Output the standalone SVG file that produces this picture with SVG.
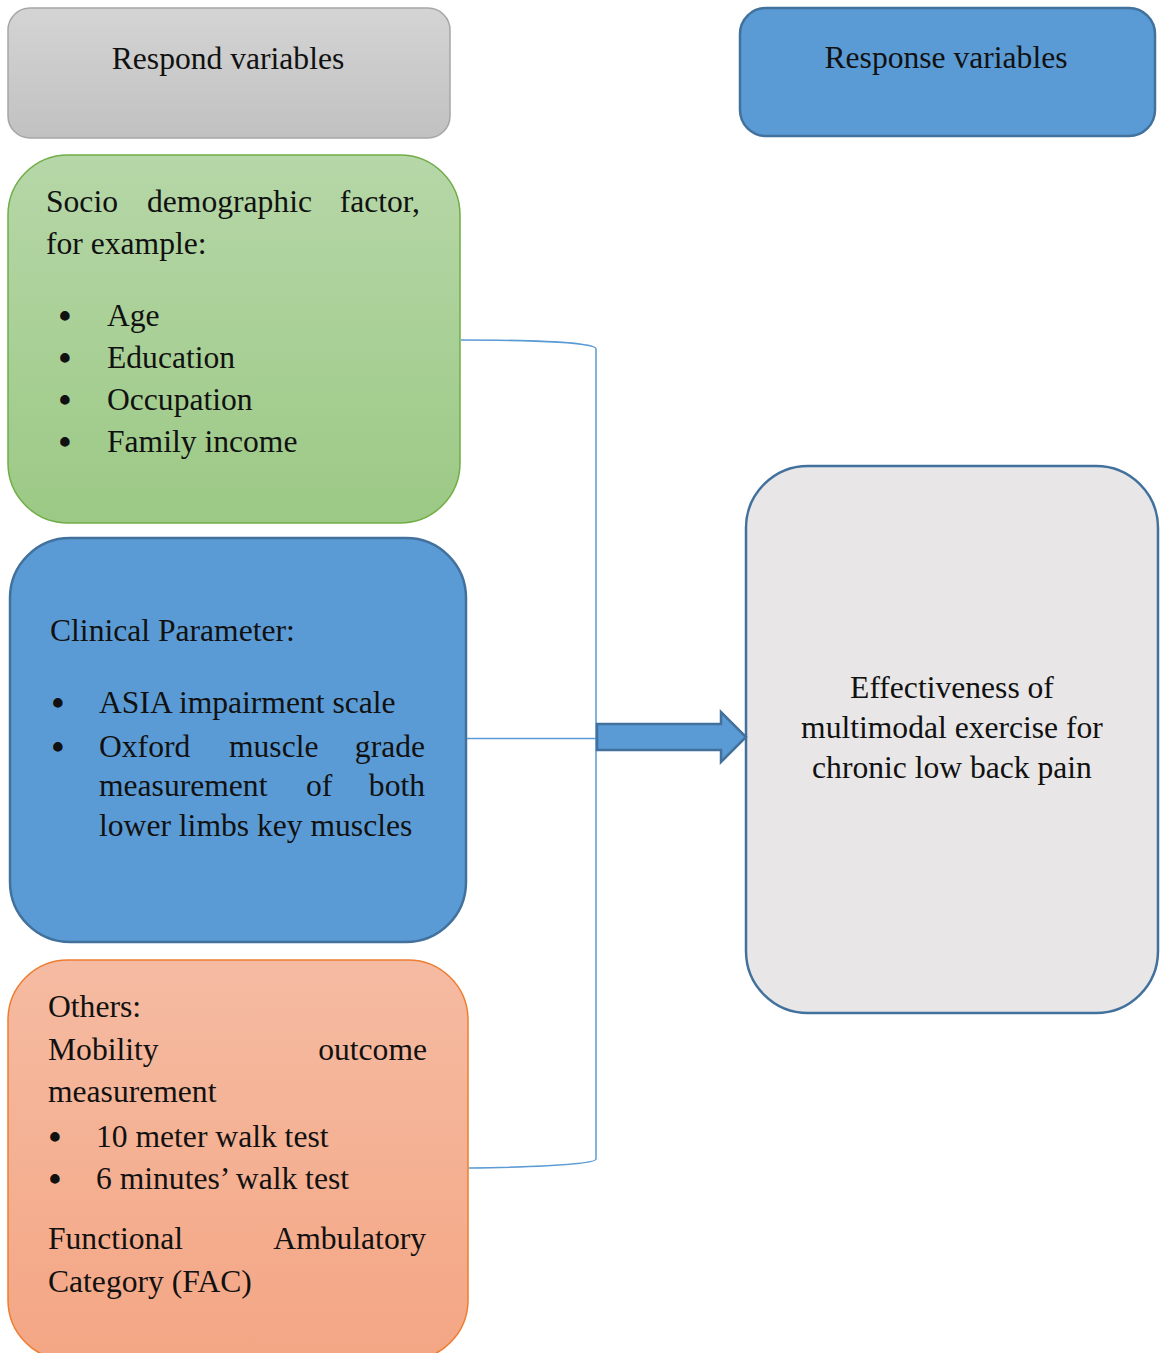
<svg xmlns="http://www.w3.org/2000/svg" width="1160" height="1353" viewBox="0 0 1160 1353">
<defs>
<linearGradient id="gGray" x1="0" y1="0" x2="0" y2="1"><stop offset="0" stop-color="#d4d4d4"/><stop offset="1" stop-color="#c1c1c1"/></linearGradient>
<linearGradient id="gGreen" x1="0" y1="0" x2="0" y2="1"><stop offset="0" stop-color="#b6d7a8"/><stop offset="1" stop-color="#9cc985"/></linearGradient>
<linearGradient id="gOrange" x1="0" y1="0" x2="0" y2="1"><stop offset="0" stop-color="#f5bba2"/><stop offset="1" stop-color="#f4a684"/></linearGradient>
<style>
text{font-family:"Liberation Serif","Times New Roman",serif;font-size:31.6px;fill:#111}
text.b{font-size:35px;text-anchor:middle;font-weight:bold}
.c{text-anchor:middle}
.e{text-anchor:end}
.blue{fill:#5b9bd5;stroke:#41719c;stroke-width:2.5}
.conn{fill:none;stroke:#5b9bd5;stroke-width:1.5}
</style>
</defs>
<g id="respond">
<rect x="8" y="8" width="442" height="130" rx="22" fill="url(#gGray)" stroke="#a6a6a6" stroke-width="1.5"/>
<text x="228" y="69" class="c">Respond variables</text>
</g>
<g id="response">
<rect x="740" y="8" width="415" height="128" rx="26" class="blue"/>
<text x="946" y="68" class="c">Response variables</text>
</g>
<g id="socio">
<rect x="8" y="155" width="452" height="368" rx="60" fill="url(#gGreen)" stroke="#70ad47" stroke-width="1.5"/>
<text x="46" y="212">Socio</text>
<text x="147" y="212">demographic</text>
<text x="420" y="212" class="e">factor,</text>
<text x="46" y="254">for example:</text>
<text x="65" y="328" class="b">•</text><text x="107" y="326">Age</text>
<text x="65" y="370" class="b">•</text><text x="107" y="368">Education</text>
<text x="65" y="412" class="b">•</text><text x="107" y="410">Occupation</text>
<text x="65" y="454" class="b">•</text><text x="107" y="452">Family income</text>
</g>
<g id="clinical">
<rect x="10" y="538" width="456" height="404" rx="60" class="blue"/>
<text x="50" y="641">Clinical Parameter:</text>
<text x="58" y="715" class="b">•</text><text x="99" y="713">ASIA impairment scale</text>
<text x="58" y="759" class="b">•</text><text x="99" y="757">Oxford</text>
<text x="229" y="757">muscle</text>
<text x="425" y="757" class="e">grade</text>
<text x="99" y="796">measurement</text>
<text x="306" y="796">of</text>
<text x="425" y="796" class="e">both</text>
<text x="99" y="836">lower limbs key muscles</text>
</g>
<g id="others">
<rect x="8" y="960" width="460" height="400" rx="60" fill="url(#gOrange)" stroke="#ed7d31" stroke-width="1.5"/>
<text x="48" y="1017">Others:</text>
<text x="48" y="1060">Mobility</text>
<text x="427" y="1060" class="e">outcome</text>
<text x="48" y="1102">measurement</text>
<text x="55" y="1149" class="b">•</text><text x="96" y="1147">10 meter walk test</text>
<text x="55" y="1191" class="b">•</text><text x="96" y="1189">6 minutes’ walk test</text>
<text x="48" y="1249">Functional</text>
<text x="426" y="1249" class="e">Ambulatory</text>
<text x="48" y="1292">Category (FAC)</text>
</g>
<g id="outcome">
<rect x="746" y="466" width="412" height="547" rx="62" fill="#e8e6e7" stroke="#41719c" stroke-width="2.5"/>
<text x="952" y="698" class="c">Effectiveness of</text>
<text x="952" y="738" class="c">multimodal exercise for</text>
<text x="952" y="778" class="c">chronic low back pain</text>
</g>
<g id="connectors">
<path class="conn" d="M461 340 C540 340 596 343 596 349 L596 1159 C596 1164 540 1167 469 1168"/>
<path class="conn" d="M467 738.5 L596 738.5"/>
<path class="blue" d="M597 724 L721 724 L721 712 L746 737 L721 762 L721 750 L597 750 Z" stroke-width="2"/>
</g>
</svg>
